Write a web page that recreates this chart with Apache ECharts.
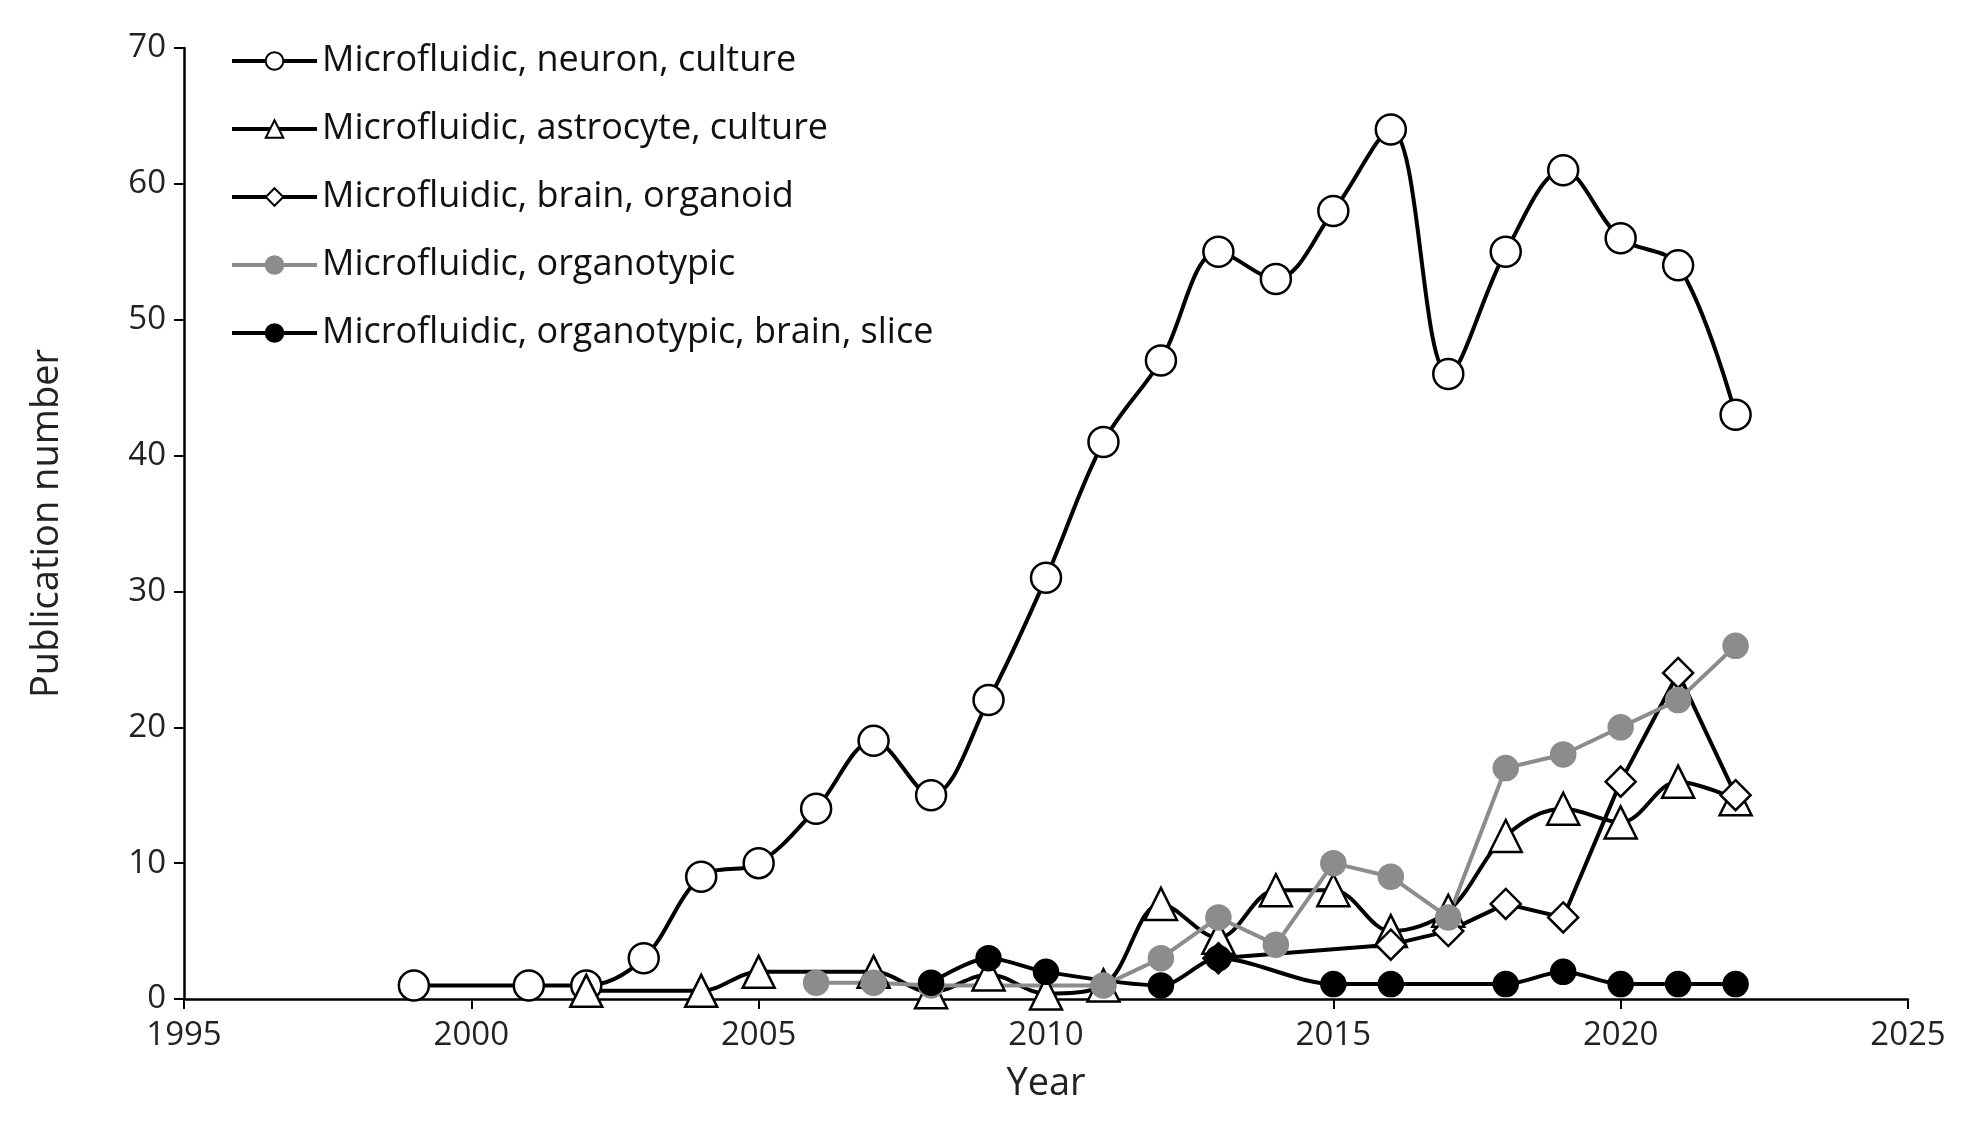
<!DOCTYPE html>
<html><head><meta charset="utf-8">
<script src="https://cdn.jsdelivr.net/npm/echarts@6/dist/echarts.min.js"></script>
<style>html,body{margin:0;background:#fff}#main{width:1975px;height:1144px}</style>
</head><body><div id="main"></div>
<script>
// values: [year, publications]
var neuron = [[1999,1],[2001,1],[2002,1],[2003,3],[2004,9],[2005,10],[2006,14],[2007,19],[2008,15],[2009,22],[2010,31],[2011,41],[2012,47],[2013,55],[2014,53],[2015,58],[2016,64],[2017,46],[2018,55],[2019,61],[2020,56],[2021,54],[2022,43]];
var astrocyte = [[2002,0.6],[2004,0.6],[2005,2],[2007,2],[2008,0.5],[2009,1.8],[2010,0.4],[2011,1],[2012,7],[2013,4.5],[2014,8],[2015,8],[2016,5],[2017,6.5],[2018,12],[2019,14],[2020,13],[2021,16],[2022,14.7]];
var organoid = [[2013,3],[2016,4],[2017,5],[2018,7],[2019,6],[2020,16],[2021,24],[2022,15]];
var organotypic = [[2006,1.2],[2007,1.2],[2008,1],[2011,1],[2012,3],[2013,6],[2014,4],[2015,10],[2016,9],[2017,6],[2018,17],[2019,18],[2020,20],[2021,22],[2022,26]];
var slice = [[2008,1.2],[2009,3],[2010,2],[2012,1],[2013,3],[2015,1.1],[2016,1.1],[2018,1.1],[2019,2],[2020,1.1],[2021,1.1],[2022,1.1]];
var names = ['Microfluidic, neuron, culture','Microfluidic, astrocyte, culture','Microfluidic, brain, organoid','Microfluidic, organotypic','Microfluidic, organotypic, brain, slice'];

var font = 'Open Sans';
var myChart = echarts.init(document.getElementById('main'));
function serie(name, data, symbol, size, fill, line, smooth) {
    return {
        name: name, type: 'line', data: data, smooth: smooth, symbol: symbol, symbolSize: size,
        lineStyle: { color: line, width: 4 },
        itemStyle: { color: fill, borderColor: fill == '#fff' ? '#000' : fill, borderWidth: 2.5 }
    };
}
myChart.setOption({
    animation: false,
    grid: { left: 184, right: 67, top: 48, bottom: 145 },
    legend: {
        orient: 'vertical', left: 225, top: 38, itemGap: 32, itemWidth: 85, itemHeight: 22,
        textStyle: { fontFamily: font, fontSize: 36, color: '#111' },
        lineStyle: { width: 4 },
        data: names
    },
    xAxis: {
        type: 'value', min: 1995, max: 2025, interval: 5,
        name: 'Year', nameLocation: 'middle', nameGap: 66,
        nameTextStyle: { fontFamily: font, fontSize: 38, color: '#222' },
        axisLine: { lineStyle: { color: '#000', width: 2.5 } },
        axisTick: { inside: false, length: 10, lineStyle: { color: '#000', width: 2 } },
        axisLabel: { fontFamily: font, fontSize: 33, color: '#222', margin: 20, formatter: function (v) { return '' + v; } },
        splitLine: { show: false }
    },
    yAxis: {
        type: 'value', min: 0, max: 70, interval: 10,
        name: 'Publication number', nameLocation: 'middle', nameGap: 118,
        nameTextStyle: { fontFamily: font, fontSize: 38, color: '#222' },
        axisLine: { show: true, lineStyle: { color: '#000', width: 2.5 } },
        axisTick: { show: true, length: 10, lineStyle: { color: '#000', width: 2 } },
        axisLabel: { fontFamily: font, fontSize: 33, color: '#222', margin: 18 },
        splitLine: { show: false }
    },
    series: [
        serie(names[0], neuron, 'circle', 30, '#fff', '#000', 0.35),
        serie(names[1], astrocyte, 'triangle', 32, '#fff', '#000', 0.35),
        serie(names[2], organoid, 'diamond', 30, '#fff', '#000', false),
        serie(names[3], organotypic, 'circle', 24, '#8c8c8c', '#8c8c8c', false),
        serie(names[4], slice, 'circle', 24, '#000', '#000', 0.3)
    ]
});
</script></body></html>
